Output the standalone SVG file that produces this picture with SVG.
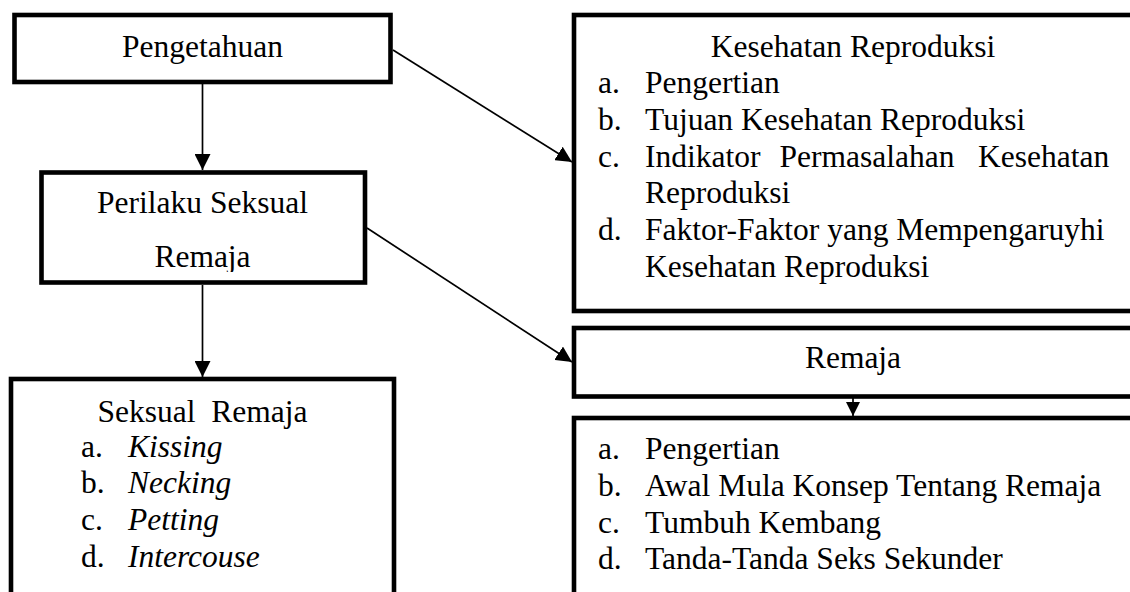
<svg xmlns="http://www.w3.org/2000/svg" width="1130" height="592" viewBox="0 0 1130 592">
<style>
.box{fill:#fff;stroke:#000;stroke-width:4.6}
.t{font-family:"Liberation Serif","Times New Roman",serif;font-size:31.5px;fill:#000}
.c{text-anchor:middle}
.i{font-style:italic}
.con{stroke:#000;stroke-width:1.7;fill:none}
</style>
<defs>
<marker id="ah" markerUnits="userSpaceOnUse" markerWidth="16" markerHeight="16" refX="16" refY="8" orient="auto"><path d="M0,0 L16,8 L0,16 z" fill="#000"/></marker>
<marker id="ahs" markerUnits="userSpaceOnUse" markerWidth="14" markerHeight="14" refX="14" refY="7" orient="auto"><path d="M0,0 L14,7 L0,14 z" fill="#000"/></marker>
<clipPath id="clipP"><rect x="42" y="172" width="324" height="100"/></clipPath>
</defs>
<g id="pengetahuan">
<rect class="box" x="14.5" y="15" width="376" height="67"/>
<text class="t c" x="202.5" y="57">Pengetahuan</text>
</g>
<g id="perilaku">
<rect class="box" x="41.5" y="172.5" width="323.5" height="110"/>
<text class="t c" x="202.5" y="213">Perilaku Seksual</text>
<text class="t c" x="202.5" y="267" clip-path="url(#clipP)">Remaja</text>
</g>
<g id="seksual-remaja">
<rect class="box" x="11" y="379" width="383" height="240"/>
<text class="t c" x="202.5" y="422" style="white-space:pre">Seksual  Remaja</text>
<text class="t" x="81" y="457">a.</text><text class="t i" x="128" y="457">Kissing</text>
<text class="t" x="81" y="493">b.</text><text class="t i" x="128" y="493">Necking</text>
<text class="t" x="81" y="530">c.</text><text class="t i" x="128" y="530">Petting</text>
<text class="t" x="81" y="567">d.</text><text class="t i" x="128" y="567">Intercouse</text>
</g>
<g id="kesehatan-reproduksi">
<rect class="box" x="574" y="15" width="580" height="296"/>
<text class="t c" x="853" y="57">Kesehatan Reproduksi</text>
<text class="t" x="598" y="93">a.</text><text class="t" x="645" y="93">Pengertian</text>
<text class="t" x="598" y="130">b.</text><text class="t" x="645" y="130">Tujuan Kesehatan Reproduksi</text>
<text class="t" x="598" y="167">c.</text><text class="t" y="167"><tspan x="645">Indikator</tspan><tspan x="779.5">Permasalahan</tspan><tspan x="978">Kesehatan</tspan></text>
<text class="t" x="645" y="203">Reproduksi</text>
<text class="t" x="598" y="240">d.</text><text class="t" x="645" y="240">Faktor-Faktor yang Mempengaruyhi</text>
<text class="t" x="645" y="277">Kesehatan Reproduksi</text>
</g>
<g id="remaja">
<rect class="box" x="574" y="328" width="580" height="68.5"/>
<text class="t c" x="853" y="368">Remaja</text>
</g>
<g id="remaja-detail">
<rect class="box" x="574" y="418" width="580" height="200"/>
<text class="t" x="598" y="459">a.</text><text class="t" x="645" y="459">Pengertian</text>
<text class="t" x="598" y="496">b.</text><text class="t" x="645" y="496">Awal Mula Konsep Tentang Remaja</text>
<text class="t" x="598" y="533">c.</text><text class="t" x="645" y="533">Tumbuh Kembang</text>
<text class="t" x="598" y="569">d.</text><text class="t" x="645" y="569">Tanda-Tanda Seks Sekunder</text>
</g>
<g id="connectors">
<line class="con" x1="202.5" y1="84" x2="202.5" y2="170" marker-end="url(#ah)"/>
<line class="con" x1="202.5" y1="285" x2="202.5" y2="377" marker-end="url(#ah)"/>
<line class="con" x1="393" y1="50" x2="572" y2="162" marker-end="url(#ah)"/>
<line class="con" x1="367" y1="228" x2="572" y2="362" marker-end="url(#ah)"/>
<line class="con" x1="853" y1="398" x2="853" y2="416" marker-end="url(#ahs)"/>
</g>
</svg>
